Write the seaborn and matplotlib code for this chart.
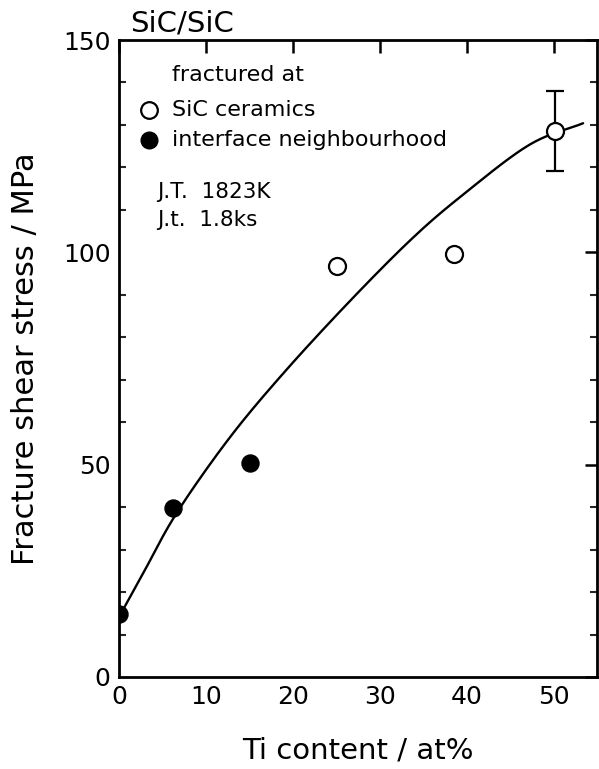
import numpy as np
import pandas as pd
import matplotlib
matplotlib.use("Agg")
import matplotlib.pyplot as plt
import seaborn as sns

# Measured joints: Ti content of the filler (at%) vs. fracture shear stress (MPa)
ti_content = [0, 6.2, 15.1, 25.1, 38.6, 50.2]
shear_stress = [14.8, 39.9, 50.5, 96.8, 99.7, 128.6]
fracture_site = ["interface neighbourhood", "interface neighbourhood", "interface neighbourhood",
                 "SiC ceramics", "SiC ceramics", "SiC ceramics"]

# Scatter band on the 50 at% joints
err_x = [50.2]
err_y = [128.6]
err_half = [9.5]

# Trend curve: guide points along the fitted line
curve_x = [0.4, 2.8, 6.6, 12.6, 18.9, 26.6, 33.8, 39.6, 47.2, 53.4]
curve_y = [15.6, 24.5, 38.5, 56.0, 71.5, 88.6, 103.4, 113.6, 125.3, 130.4]

x_ticks = [0, 10, 20, 30, 40, 50]
y_major = [0, 50, 100, 150]
y_minor = [10, 20, 30, 40, 60, 70, 80, 90, 110, 120, 130, 140]


def catmull_rom(xs, ys, steps=20):
    """Smooth path passing through every guide point."""
    p = np.column_stack([xs, ys]).astype(float)
    p = np.vstack([2 * p[0] - p[1], p, 2 * p[-1] - p[-2]])
    out = []
    t = np.linspace(0, 1, steps, endpoint=False)[:, None]
    for i in range(1, len(p) - 2):
        p0, p1, p2, p3 = p[i - 1], p[i], p[i + 1], p[i + 2]
        seg = 0.5 * ((2 * p1) + (-p0 + p2) * t + (2 * p0 - 5 * p1 + 4 * p2 - p3) * t ** 2
                     + (-p0 + 3 * p1 - 3 * p2 + p3) * t ** 3)
        out.append(seg)
    out.append(p[-2][None, :])
    out = np.vstack(out)
    return out[:, 0], out[:, 1]


df = pd.DataFrame({"ti": ti_content, "stress": shear_stress, "site": fracture_site})
sx, sy = catmull_rom(curve_x, curve_y)
curve = pd.DataFrame({"ti": sx, "stress": sy})

sns.set_theme(style="white")
plt.rcParams["font.family"] = ["DejaVu Sans"]

fig = plt.figure(figsize=(5.99, 7.69), dpi=100)
ax = fig.add_axes([119 / 599, (769 - 677) / 769, 478 / 599, 637 / 769])

sns.lineplot(data=curve, x="ti", y="stress", ax=ax, color="black", lw=1.7,
             sort=False, estimator=None, zorder=2)

ax.errorbar(err_x, err_y, yerr=err_half, fmt="none", ecolor="black",
            elinewidth=1.6, capsize=6.5, capthick=1.6, zorder=3)

open_pts = df[df["site"] == "SiC ceramics"]
filled_pts = df[df["site"] == "interface neighbourhood"]
sns.scatterplot(data=open_pts, x="ti", y="stress", ax=ax, s=150, marker="o",
                facecolor="white", edgecolor="black", linewidth=1.6, zorder=4, legend=False)
sns.scatterplot(data=filled_pts, x="ti", y="stress", ax=ax, s=150, marker="o",
                color="black", edgecolor="black", linewidth=1.0, zorder=4, legend=False)

ax.set_xlim(0, 55)
ax.set_ylim(0, 150)
ax.set_xticks(x_ticks)
ax.set_xticklabels([str(v) for v in x_ticks])
ax.set_yticks(y_major)
ax.set_yticklabels([str(v) for v in y_major])
ax.set_yticks(y_minor, minor=True)

for side in ["left", "right", "top", "bottom"]:
    ax.spines[side].set_visible(True)
    ax.spines[side].set_color("black")
    ax.spines[side].set_linewidth(2.0)

ax.tick_params(axis="both", which="major", direction="in", length=9, width=1.8,
               top=True, right=True, labelsize=18, colors="black", pad=6)
ax.tick_params(axis="y", which="minor", direction="in", length=5, width=1.5,
               left=True, right=True)
ax.tick_params(axis="x", which="minor", bottom=False, top=False)

ax.set_xlabel("Ti content / at%", fontsize=21, color="black")
ax.set_ylabel("Fracture shear stress / MPa", fontsize=22, color="black")
ax.xaxis.set_label_coords(0.5, -0.094)
ax.yaxis.set_label_coords(-0.165, 0.5)

ax.text(0.023, 1.004, "SiC/SiC", transform=ax.transAxes, fontsize=21,
        ha="left", va="bottom", color="black")

# Key for the fracture site
ax.text(0.111, 0.945, "fractured at", transform=ax.transAxes, fontsize=16,
        ha="left", va="center", color="black")
ax.plot([0.063], [0.890], transform=ax.transAxes, marker="o", ms=12,
        mfc="white", mec="black", mew=1.6, ls="none", clip_on=False)
ax.text(0.111, 0.890, "SiC ceramics", transform=ax.transAxes, fontsize=16,
        ha="left", va="center", color="black")
ax.plot([0.063], [0.843], transform=ax.transAxes, marker="o", ms=12,
        mfc="black", mec="black", ls="none", clip_on=False)
ax.text(0.111, 0.843, "interface neighbourhood", transform=ax.transAxes, fontsize=16,
        ha="left", va="center", color="black")

# Joining conditions
ax.text(0.079, 0.761, "J.T.  1823K", transform=ax.transAxes, fontsize=15.5,
        ha="left", va="center", color="black")
ax.text(0.079, 0.717, "J.t.  1.8ks", transform=ax.transAxes, fontsize=15.5,
        ha="left", va="center", color="black")

fig.savefig("out.png", dpi=100, facecolor="white")
